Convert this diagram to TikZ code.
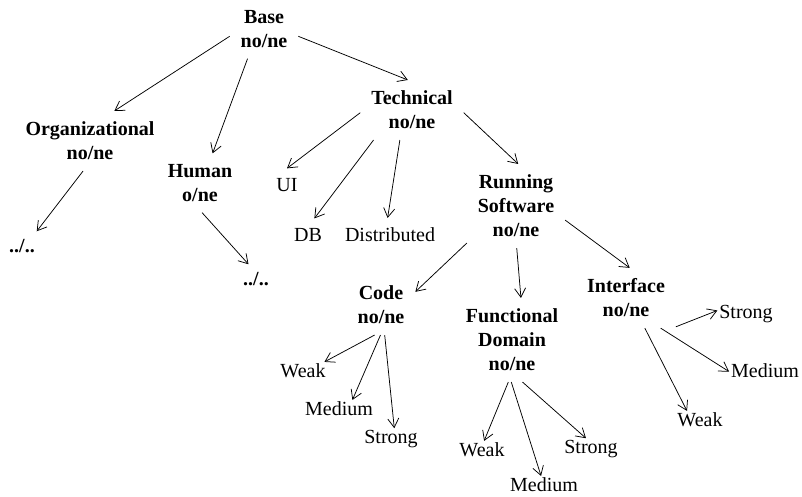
\documentclass[tikz,border=0pt]{standalone}
\usepackage{fontspec}
\setmainfont{Liberation Serif}
\usetikzlibrary{arrows.meta}

\tikzset{
  head/.style={font=\fontsize{20}{24}\selectfont\bfseries, align=center,
    inner sep=2pt, outer sep=9pt},
  leaf/.style={font=\fontsize{20}{24}\selectfont, inner sep=1pt, outer sep=1pt},
  arr/.style={-{Straight Barb[length=9pt,width=11pt]}, line width=0.75pt},
}

\begin{document}
\begin{tikzpicture}[x=1pt,y=-1pt]
  \useasboundingbox[fill=white] (0,0) rectangle (802,497);
  % upper levels
  \node[head] (base) at (264,29) {Base\\no/ne};
  \node[head] (org) at (90,141) {Organizational\\no/ne};
  \node[head] (human) at (200,183) {Human\\o/ne};
  \node[head] (tech) at (412,110) {Technical\\no/ne};
  \node[head, outer sep=6pt] (dotsL) at (22,246) {../..};
  \node[head, outer sep=6pt] (dotsH) at (256,279) {../..};
  \node[leaf, outer sep=9pt] (ui) at (287,185) {UI};
  \node[leaf, outer sep=9pt] (db) at (308,235) {DB};
  \node[leaf, outer sep=9pt] (dist) at (390,235) {Distributed};
  \node[head] (run) at (516,206) {Running\\Software\\no/ne};
  % lower levels
  \node[head] (code) at (381,305) {Code\\no/ne};
  \node[head] (func) at (512,340) {Functional\\Domain\\no/ne};
  \node[head] (intf) at (626,298) {Interface\\no/ne};
  \node[leaf] (cweak) at (303,371) {Weak};
  \node[leaf] (cmed) at (339,409) {Medium};
  \node[leaf] (cstrong) at (391,439) {Strong};
  \node[leaf] (fweak) at (482,450) {Weak};
  \node[leaf] (fmed) at (544,485) {Medium};
  \node[leaf] (fstrong) at (591,449) {Strong};
  \node[leaf] (istrong) at (746,314) {Strong};
  \node[leaf] (imed) at (765,371) {Medium};
  \node[leaf] (iweak) at (700,420) {Weak};

  \draw[arr] (base.192) -- (org.51);
  \draw[arr] (base.241) -- (human.67);
  \draw[arr] (base.348) -- (tech.98);
  \draw[arr] (org.257) -- (dotsL.45);
  \draw[arr] (human.274) -- (dotsH.117);
  \draw[arr] (tech.183) -- (ui.90);
  \draw[arr] (tech.218) -- (db.69);
  \draw[arr] (tech.248) -- (dist.98);
  \draw[arr] (tech.357) -- (run.87);
  \draw[arr] (run.217) -- (code.21);
  \draw[arr] (run.271) -- (func.78);
  \draw[arr] (run.344) -- (intf.83);
  \draw[arr] (code.258) -- (cweak.23);
  \draw[arr] (code.269) -- (cmed.34);
  \draw[arr] (code.277) -- (cstrong.73);
  \draw[arr] (func.265) -- (fweak.77);
  \draw[arr] (func.269) -- (fmed.108);
  \draw[arr] (func.284) -- (fstrong.115);
  \draw[arr] (intf.330) -- (istrong.173);
  \draw[arr] (intf.319) -- (imed.181);
  \draw[arr] (intf.302) -- (iweak.145);
\end{tikzpicture}
\end{document}
